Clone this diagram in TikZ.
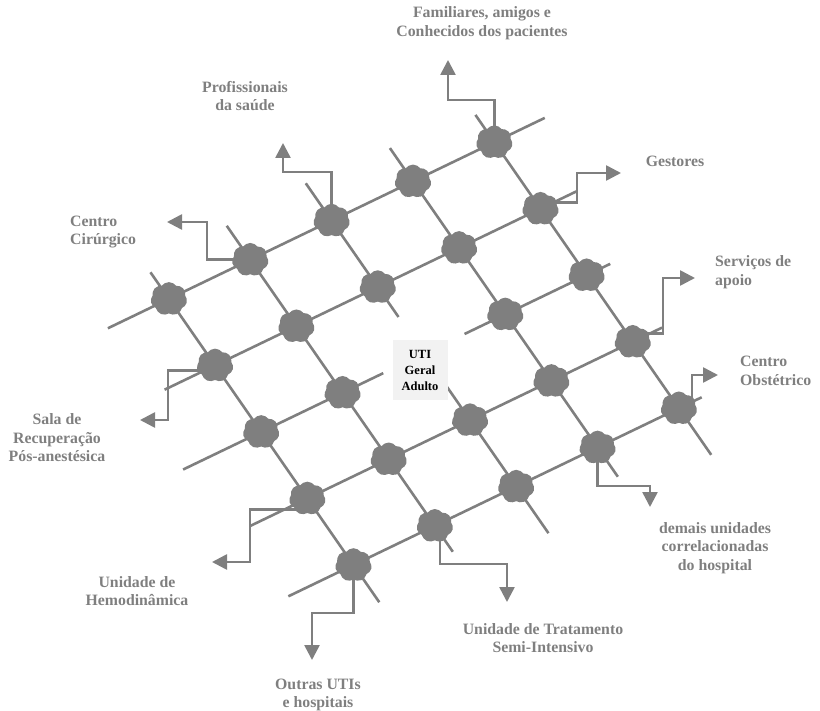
\documentclass[tikz,border=0pt]{standalone}
\usepackage{fontspec}
\setmainfont{Liberation Serif}
\usetikzlibrary{arrows.meta,shapes.symbols}
\definecolor{netgray}{HTML}{7F7F7F}
\definecolor{hubfill}{HTML}{F2F2F2}
\tikzset{
  gridline/.style={draw=netgray, line width=2.6pt},
  blob/.style={cloud, cloud puffs=7, cloud puff arc=110, aspect=1.1,
    fill=netgray, draw=netgray, line width=1.5pt, inner sep=0pt,
    minimum width=35pt, minimum height=32pt},
  conn/.style={draw=netgray, line width=2.6pt,
    -{Triangle[length=15pt,width=15pt]}},
  lbl/.style={text=netgray, font=\bfseries\fontsize{15.8}{18.5}\selectfont,
    align=center, inner sep=0pt},
  hub/.style={fill=hubfill, font=\bfseries\fontsize{12.5}{16}\selectfont,
    align=center, minimum width=55pt, minimum height=60pt, inner sep=0pt}
}
\begin{document}
\begin{tikzpicture}
\useasboundingbox (0,0) rectangle (820pt,-711pt);

% oblique grid: x runs along the rising lines, y along the falling lines
\begin{scope}[shift={(168.9pt,-298.9pt)}, x={(81.36pt,39.18pt)}, y={(46.14pt,-66.52pt)}]
  % ends of the rising lines
  \coordinate (r0s) at (-0.75,0);  \coordinate (r0e) at (4.62,0);
  \coordinate (r1s) at (-0.62,1);  \coordinate (r1e) at (4.45,1);
  \coordinate (r2s) at (-0.96,2);  \coordinate (r2m) at (1.5,2);
  \coordinate (r2n) at (2.5,2);    \coordinate (r2e) at (4.29,2);
  \coordinate (r3s) at (-0.70,3);  \coordinate (r3e) at (4.36,3);
  \coordinate (r4s) at (-0.80,4);  \coordinate (r4e) at (4.28,4);
  % ends of the falling lines
  \coordinate (f0s) at (0,-0.40);  \coordinate (f0e) at (0,4.56);
  \coordinate (f1s) at (1,-0.51);  \coordinate (f1e) at (1,4.39);
  \coordinate (f2s) at (2,-0.56);  \coordinate (f2m) at (2,1.45);
  \coordinate (f2n) at (2,2.5);    \coordinate (f2e) at (2,4.70);
  \coordinate (f3s) at (3,-0.50);  \coordinate (f3e) at (3,4.44);
  \coordinate (f4s) at (4,-0.41);  \coordinate (f4e) at (4,4.70);

  \draw[gridline] (r0s) -- (r0e);
  \draw[gridline] (r1s) -- (r1e);
  \draw[gridline] (r2s) -- (r2m);
  \draw[gridline] (r2n) -- (r2e);
  \draw[gridline] (r3s) -- (r3e);
  \draw[gridline] (r4s) -- (r4e);
  \draw[gridline] (f0s) -- (f0e);
  \draw[gridline] (f1s) -- (f1e);
  \draw[gridline] (f2s) -- (f2m);
  \draw[gridline] (f2n) -- (f2e);
  \draw[gridline] (f3s) -- (f3e);
  \draw[gridline] (f4s) -- (f4e);
\end{scope}

% central unit
\node[hub] (hub) at (420pt,-370pt) {UTI\\Geral\\Adulto};

\begin{scope}[shift={(168.9pt,-298.9pt)}, x={(81.36pt,39.18pt)}, y={(46.14pt,-66.52pt)}]
  \foreach \i in {0,...,4}{
    \foreach \j in {0,...,4}{
      \ifnum\numexpr\i*10+\j\relax=22\else
        \node[blob, shape border rotate=\i*23+\j*41] (b\i\j) at (\i,\j) {};
      \fi
    }
  }
\end{scope}

% arrow tips
\coordinate (tFam)  at (448pt,-60pt);
\coordinate (tProf) at (283pt,-143pt);
\coordinate (tCir)  at (167pt,-222pt);
\coordinate (tGest) at (621pt,-173pt);
\coordinate (tServ) at (695pt,-278pt);
\coordinate (tObst) at (718pt,-375pt);
\coordinate (tDem)  at (650pt,-507pt);
\coordinate (tSemi) at (507pt,-602pt);
\coordinate (tOut)  at (312pt,-660pt);
\coordinate (tHemo) at (212pt,-562pt);
\coordinate (tSala) at (140pt,-420pt);

% elbow connectors from the nodes of the net
\draw[conn] (b40.center) |- (448pt,-100pt) -- (tFam);
\draw[conn] (b20.center) |- (283pt,-172pt) -- (tProf);
\draw[conn] (b10.center) -| (207pt,-222pt) -- (tCir);
\draw[conn] ([yshift=6pt]b41.center) -| (577pt,-173pt) -- (tGest);
\draw[conn] ([yshift=8pt]b43.center) -| (663pt,-278pt) -- (tServ);
\draw[conn] ([xshift=13pt]b44.center) |- (tObst);
\draw[conn] (b34.center) |- (650pt,-486pt) -- (tDem);
\draw[conn] ([xshift=5pt]b14.center) |- (507pt,-564pt) -- (tSemi);
\draw[conn] (b04.center) |- (312pt,-613pt) -- (tOut);
\draw[conn] ([yshift=-11pt]b03.center) -| (250pt,-562pt) -- (tHemo);
\draw[conn] ([yshift=-5pt]b01.center) -| (168pt,-420pt) -- (tSala);

% labels
\node[lbl] (lFam) at (482pt,-23pt) {Familiares, amigos e\\Conhecidos dos pacientes};
\node[lbl] (lProf) at (245pt,-96pt) {Profissionais\\da saúde};
\node[lbl, anchor=west, align=left] (lCir) at (70pt,-232pt) {Centro\\Cirúrgico};
\node[lbl] (lGest) at (675pt,-161pt) {Gestores};
\node[lbl, anchor=west, align=left] (lServ) at (715pt,-272pt) {Serviços de\\apoio};
\node[lbl, anchor=west, align=left] (lObst) at (740pt,-371pt) {Centro\\Obstétrico};
\node[lbl] (lDem) at (715pt,-548pt) {demais unidades\\correlacionadas\\do hospital};
\node[lbl] (lSemi) at (543pt,-638pt) {Unidade de Tratamento\\Semi-Intensivo};
\node[lbl] (lOut) at (318pt,-695pt) {Outras UTIs\\e hospitais};
\node[lbl] (lHemo) at (137pt,-591pt) {Unidade de\\Hemodinâmica};
\node[lbl] (lSala) at (57pt,-438pt) {Sala de\\Recuperação\\Pós-anestésica};
\end{tikzpicture}
\end{document}
